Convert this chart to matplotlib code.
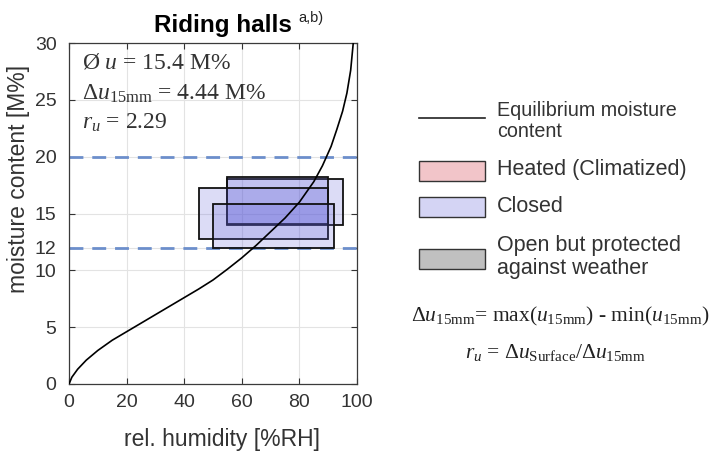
import matplotlib
matplotlib.use("Agg")
import matplotlib.pyplot as plt
from matplotlib.patches import Rectangle
from matplotlib.lines import Line2D

plt.rcParams['font.family'] = ['Liberation Sans', 'DejaVu Sans']
plt.rcParams['mathtext.fontset'] = 'custom'
plt.rcParams['mathtext.rm'] = 'Liberation Serif'
plt.rcParams['mathtext.it'] = 'Liberation Serif:italic'
plt.rcParams['mathtext.bf'] = 'Liberation Serif:bold'

# ---- data ----
title = "Riding halls"
title_sup = "a,b)"
x_label = "rel. humidity [%RH]"
y_label = "moisture content [M%]"
x_ticks = [0, 20, 40, 60, 80, 100]
y_ticks = [0, 5, 10, 12, 15, 20, 25, 30]
limit_lines = [12, 20]

# equilibrium moisture content curve
emc_rh = [0, 1, 3, 6, 10, 15, 20, 25, 30, 35, 40, 45, 50, 55, 60, 65, 70, 75, 80, 85, 88,
          91, 93, 95, 96.5, 97.8, 98.7]
emc_u = [0, 0.6, 1.3, 2.1, 2.95, 3.85, 4.6, 5.35, 6.1, 6.85, 7.6, 8.35, 9.15, 10.1, 11.1,
         12.2, 13.4, 14.6, 16.0, 17.8, 19.2, 20.9, 22.4, 24.0, 25.6, 27.6, 30.0]

# closed riding hall ranges (RH min/max, u min/max)
rect_rh_min = [55.0, 55.0, 45.0, 50.0]
rect_rh_max = [95.0, 90.0, 90.0, 92.0]
rect_u_min = [14.0, 14.1, 12.8, 12.0]
rect_u_max = [18.0, 18.2, 17.2, 15.8]

stat_lines = [r"Ø $u$ = 15.4 M%",
              r"$\Delta u_{\rm 15mm}$ = 4.44 M%",
              r"$r_u$ = 2.29"]

legend_labels = ["Equilibrium moisture\ncontent", "Heated (Climatized)", "Closed",
                 "Open but protected\nagainst weather"]
legend_colors = ["#f2c5c9", "#d4d4f4", "#c0c0c0"]

formula1 = r"$\Delta u_{\rm 15mm}$= max($u_{\rm 15mm}$) - min($u_{\rm 15mm}$)"
formula2 = r"$r_u$ = $\Delta u_{\rm Surface}$/$\Delta u_{\rm 15mm}$"

# ---- figure ----
W, H = 712, 455
fig = plt.figure(figsize=(W / 100, H / 100), dpi=100)

# overlay axes in pixel coordinates for legend / side text
ov = fig.add_axes([0, 0, 1, 1], zorder=0)
ov.set_xlim(0, W)
ov.set_ylim(H, 0)
ov.axis('off')

ax = fig.add_axes([69 / W, 1 - 384 / H, 288 / W, 341 / H], zorder=1)
ax.set_xlim(0, 100)
ax.set_ylim(0, 30)
ax.set_xticks(x_ticks)
ax.set_yticks(y_ticks)
ax.grid(True, color='#e3e3e3', lw=0.8, zorder=0)
ax.set_axisbelow(True)
tc = '#333333'
ax.tick_params(direction='in', length=4, width=0.8, color='#333333', labelcolor=tc,
               labelsize=14, top=True, right=True)
ax.tick_params(axis='y', pad=9)
ax.tick_params(axis='x', pad=7)
for s in ax.spines.values():
    s.set_color('#3a3a3a')
    s.set_linewidth(0.9)

ax.set_xlabel(x_label, fontsize=16.5, color=tc)
ax.set_ylabel(y_label, fontsize=16.5, color=tc)
ax.xaxis.set_label_coords(0.53, -0.13)
ax.yaxis.set_label_coords(-0.135, 0.60)

for v in limit_lines:
    ax.axhline(v, color='#6c8ecb', lw=2.0, dashes=(5, 3.2), zorder=2)

for x0, x1, y0, y1 in zip(rect_rh_min, rect_rh_max, rect_u_min, rect_u_max):
    ax.add_patch(Rectangle((x0, y0), x1 - x0, y1 - y0, facecolor=(0.38, 0.38, 0.85, 0.22),
                           edgecolor='#111111', lw=1.3, zorder=3))

ax.plot(emc_rh, emc_u, color='black', lw=1.2, zorder=4, clip_on=True)

for i, s in enumerate(stat_lines):
    ax.text(4.5, [27.8, 25.0, 22.5][i], s, fontsize=17, family='Liberation Serif',
            color='#333333', va='baseline', ha='left', zorder=5)

# title
ov.text(154, 32, title, fontsize=17.5, fontweight='bold', ha='left', va='baseline', color='black')
ov.text(298, 22, title_sup, fontsize=10.5, ha='left', va='baseline', color='#222222')

# legend
lx0, lx1, tx = 419, 485, 497
ov.add_line(Line2D([lx0, lx1], [118, 118], color='#222222', lw=1.2))
ov.text(tx, 121, legend_labels[0], fontsize=14.2, color=tc, ha='left', va='center', linespacing=1.15)
for (yc, lab, col) in zip([171, 207, 259], legend_labels[1:], legend_colors):
    ov.add_patch(Rectangle((lx0, yc - 10), lx1 - lx0, 20, facecolor=col, edgecolor='#333333', lw=1.0))
    ov.text(tx, yc - 1 if lab != legend_labels[3] else yc - 2, lab, fontsize=15.5, color=tc,
            ha='left', va='center', linespacing=1.1)

ov.text(560, 321, formula1, fontsize=15.5, ha='center', va='baseline', color='#222222',
        family='Liberation Serif')
ov.text(555, 358, formula2, fontsize=15.5, ha='center', va='baseline', color='#222222',
        family='Liberation Serif')

fig.savefig('out.png', dpi=100)
